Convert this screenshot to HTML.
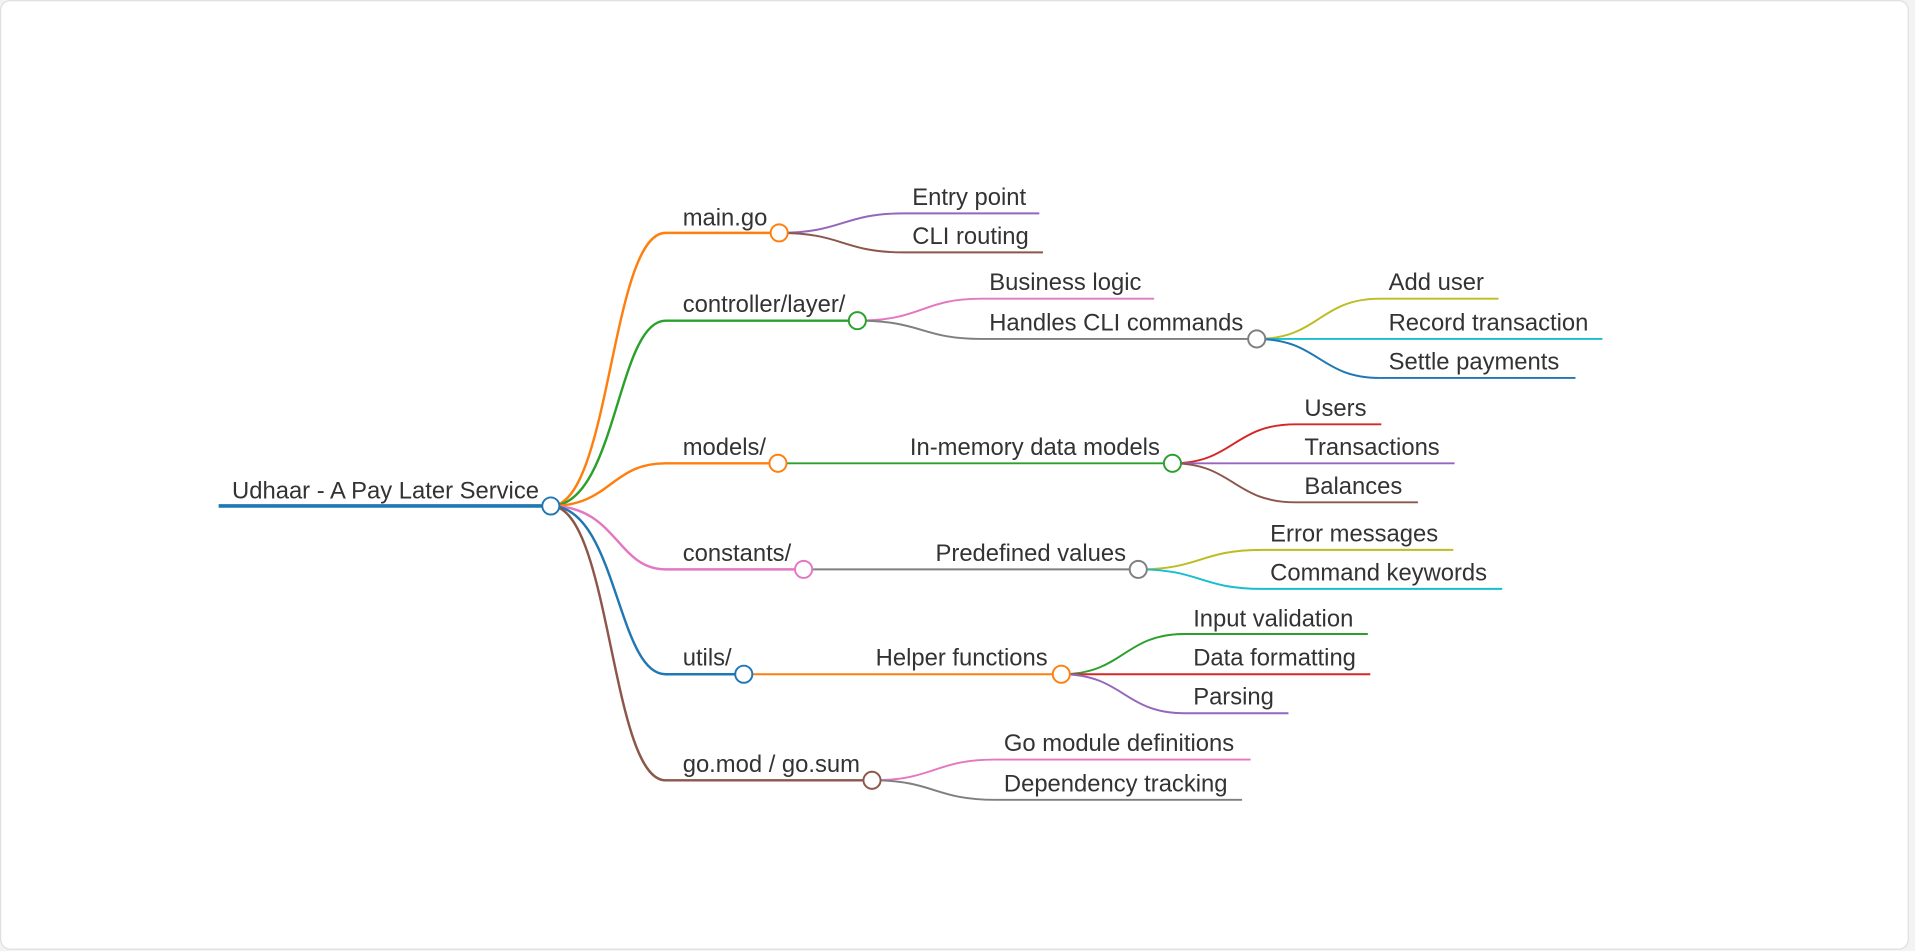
<!DOCTYPE html>
<html><head><meta charset="utf-8"><style>
html,body{margin:0;padding:0;background:#f3f3f3;width:1915px;height:951px;overflow:hidden}
svg{display:block}
text{font-family:"Liberation Sans",Arial,sans-serif;font-size:19.5px;fill:#333}
</style></head><body>
<svg width="1915" height="951" viewBox="0 0 1568 780" preserveAspectRatio="none">
<rect x="0.5" y="0.5" width="1562" height="778" rx="8" fill="#fff" stroke="#e0e0e0"/>
<g fill="none" stroke-width="1.6">
<path d="M179 415H451" stroke="#1f77b4" stroke-width="3"/>
<path d="M451 415C500 415,500 191,545 191H638" stroke="#ff7f0e" stroke-width="2"/>
<path d="M451 415C505 415,505 263,545 263H702" stroke="#2ca02c" stroke-width="2"/>
<path d="M451 415C500 415,500 380,545 380H637" stroke="#ff7f0e" stroke-width="2"/>
<path d="M451 415C505 415,505 467,545 467H658" stroke="#e377c2" stroke-width="2"/>
<path d="M451 415C505 415,505 553,545 553H609" stroke="#1f77b4" stroke-width="2"/>
<path d="M451 415C500 415,500 640,545 640H714" stroke="#8c564b" stroke-width="2"/>
<path d="M638 191C690 191,690 175,740 175H851" stroke="#9467bd"/>
<path d="M638 191C690 191,690 207,740 207H854" stroke="#8c564b"/>
<path d="M702 263C755 263,755 245,803 245H945" stroke="#e377c2"/>
<path d="M702 263C755 263,755 278,803 278H1029" stroke="#7f7f7f"/>
<path d="M1029 278C1080 278,1080 245,1130 245H1227" stroke="#bcbd22"/>
<path d="M1029 278H1312" stroke="#17becf"/>
<path d="M1029 278C1080 278,1080 310,1130 310H1290" stroke="#1f77b4"/>
<path d="M637 380H960" stroke="#2ca02c"/>
<path d="M960 380C1010 380,1010 348,1061 348H1131" stroke="#d62728"/>
<path d="M960 380H1191" stroke="#9467bd"/>
<path d="M960 380C1010 380,1010 412,1061 412H1161" stroke="#8c564b"/>
<path d="M658 467H932" stroke="#7f7f7f"/>
<path d="M932 467C983 467,983 451,1033 451H1190" stroke="#bcbd22"/>
<path d="M932 467C983 467,983 483,1033 483H1230" stroke="#17becf"/>
<path d="M609 553H869" stroke="#ff7f0e"/>
<path d="M869 553C920 553,920 520,970 520H1120" stroke="#2ca02c"/>
<path d="M869 553H1122" stroke="#d62728"/>
<path d="M869 553C920 553,920 585,970 585H1055" stroke="#9467bd"/>
<path d="M714 640C765 640,765 623,815 623H1024" stroke="#e377c2"/>
<path d="M714 640C765 640,765 656,815 656H1017" stroke="#7f7f7f"/>
</g>
<g fill="#fff" stroke-width="1.6">
<circle cx="451" cy="415" r="7" stroke="#1f77b4"/>
<circle cx="638" cy="191" r="7" stroke="#ff7f0e"/>
<circle cx="702" cy="263" r="7" stroke="#2ca02c"/>
<circle cx="637" cy="380" r="7" stroke="#ff7f0e"/>
<circle cx="658" cy="467" r="7" stroke="#e377c2"/>
<circle cx="609" cy="553" r="7" stroke="#1f77b4"/>
<circle cx="714" cy="640" r="7" stroke="#8c564b"/>
<circle cx="1029" cy="278" r="7" stroke="#7f7f7f"/>
<circle cx="960" cy="380" r="7" stroke="#2ca02c"/>
<circle cx="932" cy="467" r="7" stroke="#7f7f7f"/>
<circle cx="869" cy="553" r="7" stroke="#ff7f0e"/>
</g>
<g>
<text x="190" y="409">Udhaar - A Pay Later Service</text>
<text x="559" y="185">main.go</text>
<text x="559" y="256">controller/layer/</text>
<text x="559" y="373">models/</text>
<text x="559" y="460">constants/</text>
<text x="559" y="546">utils/</text>
<text x="559" y="633">go.mod / go.sum</text>
<text x="747" y="168">Entry point</text>
<text x="747" y="200">CLI routing</text>
<text x="810" y="238">Business logic</text>
<text x="810" y="271">Handles CLI commands</text>
<text x="1137" y="238">Add user</text>
<text x="1137" y="271">Record transaction</text>
<text x="1137" y="303">Settle payments</text>
<text x="745" y="373">In-memory data models</text>
<text x="1068" y="341">Users</text>
<text x="1068" y="373">Transactions</text>
<text x="1068" y="405">Balances</text>
<text x="766" y="460">Predefined values</text>
<text x="1040" y="444">Error messages</text>
<text x="1040" y="476">Command keywords</text>
<text x="717" y="546">Helper functions</text>
<text x="977" y="514">Input validation</text>
<text x="977" y="546">Data formatting</text>
<text x="977" y="578">Parsing</text>
<text x="822" y="616">Go module definitions</text>
<text x="822" y="649">Dependency tracking</text>
</g>
</svg>
</body></html>
